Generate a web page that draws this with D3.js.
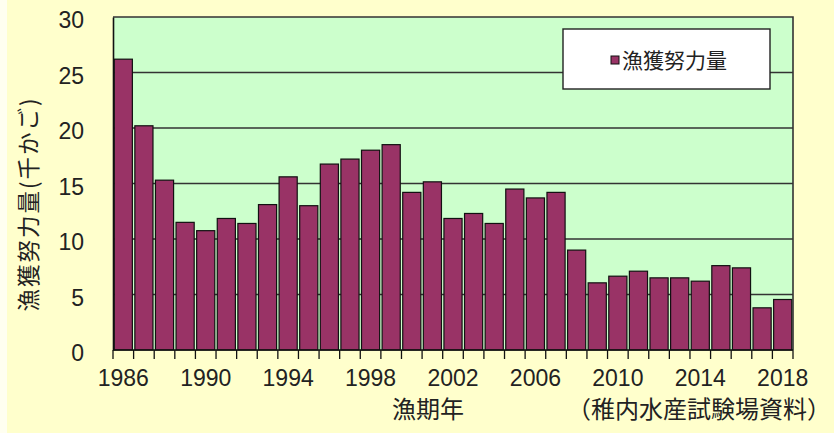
<!DOCTYPE html>
<html>
<head>
<meta charset="utf-8">
<script src="https://cdn.jsdelivr.net/npm/d3@7"></script>
<style>
  body { margin: 0; background: #fff; }
  svg { display: block; font-family: "Noto Sans CJK JP", "Noto Sans", sans-serif; }
</style>
</head>
<body>
<svg></svg>
<script>
const width = 834
const height = 433
const margins = { top: 17, bottom: 83, left: 113, right: 41 }

// 漁期年
const years = d3.range(1986, 2019)
// 漁獲努力量 (千かご)
const effort = [26.2, 20.2, 15.3, 11.5, 10.75, 11.85, 11.4, 13.1, 15.6, 13.0,
  16.75, 17.2, 18.0, 18.5, 14.2, 15.15, 11.85, 12.3, 11.4, 14.5,
  13.7, 14.2, 9.0, 6.05, 6.65, 7.1, 6.5, 6.5, 6.2, 7.6,
  7.4, 3.8, 4.55]
const yTicks = [0, 5, 10, 15, 20, 25, 30]
const xLabels = [1986, 1990, 1994, 1998, 2002, 2006, 2010, 2014, 2018]

const data = years.map((y, i) => ({ year: y, value: effort[i] }))

const svg = d3.select("svg")
  .attr("width", width)
  .attr("height", height)

// 背景
svg.append("rect").attr("width", width).attr("height", height).attr("fill", "#ffffcc")
svg.append("rect").attr("width", 7).attr("height", height).attr("fill", "#fffff0")

const x0 = margins.left, x1 = width - margins.right
const y0 = height - margins.bottom, y1 = margins.top

let x = d3.scaleBand(years, [x0, x1]).paddingInner(0.12).paddingOuter(0.06)
let xEdge = d3.scaleLinear([0, years.length], [x0, x1])
let y = d3.scaleLinear([0, 30], [y0, y1])

// plot area
svg.append("rect")
  .attr("x", x0).attr("y", y1)
  .attr("width", x1 - x0).attr("height", y0 - y1)
  .attr("fill", "#ccffcc")

// grid lines
svg.append("g")
  .selectAll("line")
  .data(yTicks.filter(d => d > 0 && d < 30))
  .join("line")
  .attr("x1", x0).attr("x2", x1)
  .attr("y1", d => y(d)).attr("y2", d => y(d))
  .attr("stroke", "#333")
  .attr("stroke-width", 1.4)

// bars
svg.append("g")
  .selectAll("rect")
  .data(data)
  .join("rect")
  .attr("x", d => x(d.year))
  .attr("y", d => y(d.value))
  .attr("width", x.bandwidth())
  .attr("height", d => y(0) - y(d.value))
  .attr("fill", "#993366")
  .attr("stroke", "#111")
  .attr("stroke-width", 1.2)

// frame (top, right)
svg.append("path")
  .attr("d", `M${x0},${y1}H${x1}V${y0}`)
  .attr("fill", "none")
  .attr("stroke", "#333")
  .attr("stroke-width", 1.6)

// y axis
let yAxis = svg.append("g")
  .attr("transform", `translate(${x0},0)`)
  .call(d3.axisLeft(y).tickValues(yTicks).tickSize(0).tickPadding(29))
yAxis.select(".domain").attr("stroke", "#111").attr("stroke-width", 1.6)
yAxis.selectAll("text")
  .attr("font-size", 23)
  .attr("dy", "0.46em")
  .attr("fill", "#222")
  .attr("font-family", "'Liberation Sans', Arial, sans-serif")

// x axis: boundary ticks
svg.append("g")
  .selectAll("line")
  .data(d3.range(years.length + 1))
  .join("line")
  .attr("x1", d => xEdge(d)).attr("x2", d => xEdge(d))
  .attr("y1", y0).attr("y2", y0 + 9)
  .attr("stroke", "#111")
  .attr("stroke-width", 1.3)
svg.append("line")
  .attr("x1", x0).attr("x2", x1)
  .attr("y1", y0).attr("y2", y0)
  .attr("stroke", "#111")
  .attr("stroke-width", 1.6)

// x axis labels
let xAxis = svg.append("g")
  .attr("transform", `translate(0,${y0})`)
  .call(d3.axisBottom(x).tickValues(xLabels).tickSize(0).tickPadding(20))
xAxis.select(".domain").remove()
xAxis.selectAll("text")
  .attr("font-size", 23)
  .attr("fill", "#222")
  .attr("font-family", "'Liberation Sans', Arial, sans-serif")

// axis titles
svg.append("text")
  .attr("transform", `translate(37,204) rotate(-90)`)
  .attr("text-anchor", "middle")
  .attr("font-size", 22.5)
  .attr("letter-spacing", 2)
  .attr("fill", "#222")
  .text("漁獲努力量(千かご)")

svg.append("text")
  .attr("x", 428).attr("y", 418)
  .attr("text-anchor", "middle")
  .attr("font-size", 24)
  .attr("fill", "#222")
  .text("漁期年")

svg.append("text")
  .attr("x", 831).attr("y", 418)
  .attr("text-anchor", "end")
  .attr("font-size", 24)
  .attr("fill", "#222")
  .text("（稚内水産試験場資料）")

// legend
let legend = svg.append("g").attr("transform", "translate(563,29)")
legend.append("rect")
  .attr("width", 207).attr("height", 60)
  .attr("fill", "#fff")
  .attr("stroke", "#222")
  .attr("stroke-width", 1.4)
legend.append("rect")
  .attr("x", 48).attr("y", 27)
  .attr("width", 8).attr("height", 8)
  .attr("fill", "#993366")
  .attr("stroke", "#111")
  .attr("stroke-width", 1)
legend.append("text")
  .attr("x", 59).attr("y", 39)
  .attr("font-size", 21)
  .attr("fill", "#222")
  .text("漁獲努力量")
</script>
</body>
</html>
